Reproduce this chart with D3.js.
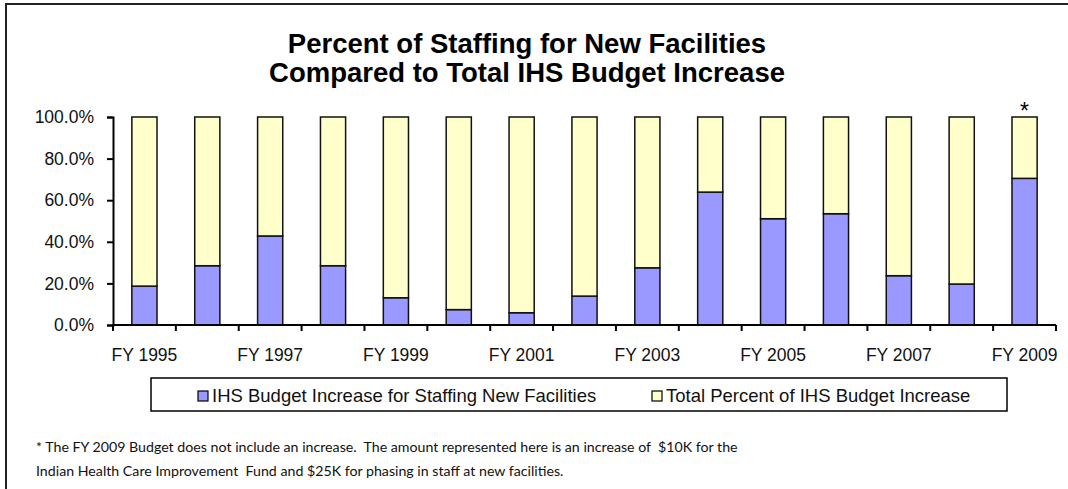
<!DOCTYPE html>
<html><head><meta charset="utf-8">
<script src="https://cdn.jsdelivr.net/npm/d3@7"></script>
<style>body{margin:0;background:#fff}svg{display:block}</style>
</head><body>
<svg id="c" width="1068" height="489"></svg>
<script>
const categories = ["FY 1995","FY 1996","FY 1997","FY 1998","FY 1999","FY 2000","FY 2001","FY 2002","FY 2003","FY 2004","FY 2005","FY 2006","FY 2007","FY 2008","FY 2009"];
const staffing = [18.7, 28.5, 42.8, 28.5, 13.1, 7.4, 5.9, 13.9, 27.5, 63.9, 51.1, 53.5, 23.7, 19.7, 70.5];
const remainder = [81.3, 71.5, 57.2, 71.5, 86.9, 92.6, 94.1, 86.1, 72.5, 36.1, 48.9, 46.5, 76.3, 80.3, 29.5];
const yTicks = [0, 20, 40, 60, 80, 100];
const xLabels = ["FY 1995","FY 1997","FY 1999","FY 2001","FY 2003","FY 2005","FY 2007","FY 2009"];
const seriesNames = ["IHS Budget Increase for Staffing New Facilities","Total Percent of IHS Budget Increase"];
const colors = ["#9999FF","#FFFFCC"];
const titleLines = ["Percent of Staffing for New Facilities","Compared to Total IHS Budget Increase"];
const footLines = ["* The FY 2009 Budget does not include an increase.  The amount represented here is an increase of  $10K for the",
                   "Indian Health Care Improvement  Fund and $25K for phasing in staff at new facilities."];

const svg = d3.select("#c");
const F = "Liberation Sans, Arial, sans-serif";

// outer frame
svg.append("rect").attr("x",6).attr("y",4).attr("width",1100).attr("height",600)
  .attr("fill","none").attr("stroke","#222").attr("stroke-width",2);

// title
svg.selectAll("text.title").data(titleLines).enter().append("text")
  .attr("x",527).attr("y",(d,i)=>53+i*29).attr("text-anchor","middle")
  .attr("font-family",F).attr("font-weight","bold").attr("font-size",27.5).text(d=>d);

const x = d3.scaleBand().domain(categories).range([113,1056]).paddingInner(0.6).paddingOuter(0.3);
const y = d3.scaleLinear().domain([0,100]).range([325,117]);

const stackData = categories.map((c,i)=>({cat:c, s:staffing[i], r:remainder[i]}));
const stack = d3.stack().keys(["s","r"])(stackData);

svg.append("g").selectAll("g").data(stack).enter().append("g")
  .attr("fill",(d,i)=>colors[i])
  .selectAll("rect").data(d=>d).enter().append("rect")
  .attr("x",d=>x(d.data.cat)).attr("width",x.bandwidth())
  .attr("y",d=>y(d[1])).attr("height",d=>y(d[0])-y(d[1]))
  .attr("stroke","#111").attr("stroke-width",1.5);

// y axis
const yAxis = svg.append("g").attr("transform","translate(113,0)")
  .call(d3.axisLeft(y).tickValues(yTicks).tickFormat(d=>d3.format(".1f")(d)+"%").tickSize(6).tickPadding(13));
yAxis.select(".domain").attr("stroke","#000").attr("stroke-width",2);
yAxis.selectAll(".tick line").attr("stroke","#000").attr("stroke-width",2);
yAxis.selectAll("text").attr("font-family",F).attr("font-size",17.5).attr("fill","#111");

// x axis
const xa = svg.append("g").attr("transform","translate(0,325)");
xa.append("line").attr("x1",113).attr("x2",1056).attr("stroke","#000").attr("stroke-width",2);
const step = x.step();
const bounds = d3.range(categories.length+1).map(i=>113+i*step);
xa.selectAll("line.tk").data(bounds).enter().append("line")
  .attr("x1",d=>d).attr("x2",d=>d).attr("y1",0).attr("y2",6).attr("stroke","#000").attr("stroke-width",2);
xa.selectAll("text").data(xLabels).enter().append("text")
  .attr("x",d=>x(d)+x.bandwidth()/2).attr("y",36).attr("text-anchor","middle")
  .attr("font-family",F).attr("font-size",17.5).attr("fill","#111").text(d=>d);

// asterisk
svg.append("text").attr("x",x("FY 2009")+x.bandwidth()/2).attr("y",119).attr("text-anchor","middle")
  .attr("font-family",F).attr("font-size",23).text("*");

// legend
svg.append("rect").attr("x",151).attr("y",378).attr("width",856).attr("height",33)
  .attr("fill","#fff").attr("stroke","#000").attr("stroke-width",1.5);
const legX = [198, 652];
seriesNames.forEach((n,i)=>{
  svg.append("rect").attr("x",legX[i]).attr("y",391).attr("width",10).attr("height",10)
    .attr("fill",colors[i]).attr("stroke","#000").attr("stroke-width",1.2);
  svg.append("text").attr("x",legX[i]+14).attr("y",402).attr("font-family",F).attr("font-size",18.5)
    .attr("fill","#111").text(n);
});

// footnote
svg.selectAll("text.foot").data(footLines).enter().append("text")
  .attr("x",36).attr("y",(d,i)=>452+i*24).attr("font-family","Lato, Open Sans, sans-serif")
  .attr("font-size",14.2).attr("fill","#111").attr("xml:space","preserve").style("white-space","pre").text(d=>d);
</script>
</body></html>
